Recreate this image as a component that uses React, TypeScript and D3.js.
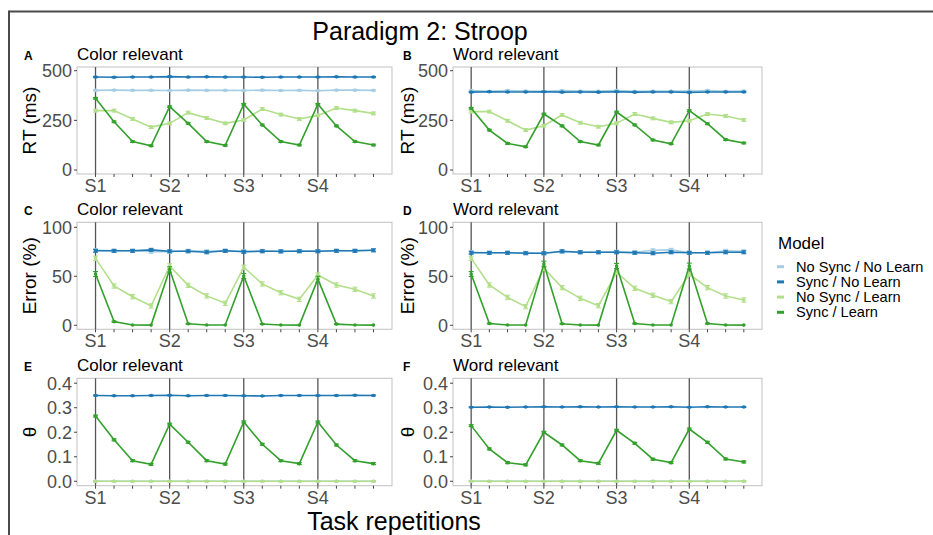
import React from 'react';
import * as d3 from 'd3';

// x positions (task repetitions) and session labels
const trials = [1, 2, 3, 4, 5, 6, 7, 8, 9, 10, 11, 12, 13, 14, 15, 16];
const sessionTrials = [1, 5, 9, 13];
const sessionLabels = ['S1', 'S2', 'S3', 'S4'];

const models = ['No Sync / No Learn', 'Sync / No Learn', 'No Sync / Learn', 'Sync / Learn'];
const modelColors = ['#a6cee3', '#1f78b4', '#b2df8a', '#33a02c'];

// A: RT, color relevant
const rtColorNsNl = [401, 402, 401, 401, 400, 402, 401, 401, 400, 402, 400, 401, 399, 402, 402, 401];
const rtColorSNl = [468, 467, 468, 468, 470, 468, 469, 468, 468, 467, 468, 468, 468, 469, 468, 468];
const rtColorNsL = [299, 299, 257, 216, 235, 289, 262, 235, 252, 307, 279, 257, 275, 312, 299, 285];
const rtColorSL = [361, 243, 143, 122, 319, 235, 143, 124, 331, 227, 143, 126, 331, 222, 143, 126];
// B: RT, word relevant
const rtWordNsNl = [400, 396, 400, 398, 396, 400, 397, 397, 400, 396, 397, 397, 398, 400, 396, 398];
const rtWordSNl = [392, 394, 393, 393, 394, 392, 393, 392, 394, 392, 393, 393, 391, 393, 393, 393];
const rtWordNsL = [294, 294, 248, 201, 223, 277, 238, 218, 235, 282, 260, 240, 248, 282, 272, 252];
const rtWordSL = [311, 201, 134, 117, 282, 222, 143, 126, 292, 227, 151, 132, 299, 233, 153, 136];
// C: error, color relevant
const errColorNsNl = [76.5, 76, 76, 75, 75, 76, 75.5, 76, 75.5, 76, 75, 76, 75.5, 76, 76, 76.5];
const errColorSNl = [76, 76, 76, 77, 75.5, 75.5, 74.5, 76, 75, 75.5, 75.5, 75.5, 75.5, 76, 76, 76.5];
const errColorNsL = [68.3, 40.1, 29.2, 19.7, 60.5, 40.8, 30, 22.4, 59.2, 42.2, 33.3, 26.5, 51.3, 41.1, 36.7, 29.9];
const errColorSL = [52.3, 3.7, 0.3, 0.2, 57, 1.5, 0.3, 0.3, 50.3, 1.3, 0.3, 0.2, 47, 1.2, 0.3, 0.2];
// D: error, word relevant
const errWordNsNl = [74.5, 74, 74, 74, 73.5, 75, 74.5, 74.5, 75, 74.5, 76.5, 77, 74, 74, 76, 75.5];
const errWordSNl = [74, 74, 74, 73.5, 73.5, 75.5, 74.5, 74.5, 74.5, 74, 73.5, 74.5, 74, 74, 74.5, 74.5];
const errWordNsL = [68.3, 41.1, 28.5, 19, 58.2, 38.4, 27.5, 20, 54.1, 37.7, 30.6, 24.2, 52.1, 38.4, 29.9, 25.8];
const errWordSL = [52.3, 1.8, 0.3, 0.3, 62.6, 1.5, 0.3, 0.2, 60.5, 1.8, 0.3, 0.3, 60.5, 1.8, 0.3, 0.2];
// E: theta, color relevant
const thColorNsNl = [0, 0, 0, 0, 0, 0, 0, 0, 0, 0, 0, 0, 0, 0, 0, 0];
const thColorSNl = [0.35, 0.349, 0.349, 0.35, 0.351, 0.349, 0.35, 0.35, 0.349, 0.348, 0.35, 0.35, 0.35, 0.35, 0.351, 0.35];
const thColorNsL = [0, 0, 0, 0, 0, 0, 0, 0, 0, 0, 0, 0, 0, 0, 0, 0];
const thColorSL = [0.266, 0.169, 0.084, 0.069, 0.233, 0.159, 0.084, 0.07, 0.242, 0.151, 0.084, 0.072, 0.242, 0.148, 0.084, 0.072];
// F: theta, word relevant
const thWordNsNl = [0, 0, 0, 0, 0, 0, 0, 0, 0, 0, 0, 0, 0, 0, 0, 0];
const thWordSNl = [0.302, 0.303, 0.302, 0.303, 0.304, 0.303, 0.304, 0.303, 0.304, 0.303, 0.303, 0.304, 0.302, 0.304, 0.303, 0.303];
const thWordNsL = [0, 0, 0, 0, 0, 0, 0, 0, 0, 0, 0, 0, 0, 0, 0, 0];
const thWordSL = [0.227, 0.132, 0.076, 0.067, 0.2, 0.148, 0.084, 0.073, 0.208, 0.155, 0.09, 0.076, 0.213, 0.159, 0.091, 0.079];

// standard errors, one value per model (Sync / Learn in error panels is per point)
const seRt = [3, 3, 7, 4];
const seErr = [1.5, 1.5, 2.2, 0];
const seErrSyncLearn = [2.5, 0.6, 0, 0, 2.8, 0.5, 0, 0, 2.6, 0.5, 0, 0, 3, 0.5, 0, 0];
const seTheta = [0.002, 0.002, 0.002, 0.004];

const rtTicks = [0, 250, 500];
const errTicks = [0, 50, 100];
const thetaTicks = [0, 0.1, 0.2, 0.3, 0.4];

const FONT = 'Liberation Sans, Arial, Helvetica, sans-serif';

const cols = [
  { x0: 77, x1: 392, letterX: 24, titleX: 36 },
  { x0: 453, x1: 762, letterX: 403, titleX: 414 },
];
const rows = [
  { y0: 67, y1: 174, domain: [-20, 518.6], ticks: rtTicks, fmt: (v: number) => String(v), ylab: 'RT (ms)', se: seRt },
  { y0: 222.3, y1: 329.3, domain: [-4.1, 105.1], ticks: errTicks, fmt: (v: number) => String(v), ylab: 'Error (%)', se: seErr },
  { y0: 378.3, y1: 485.7, domain: [-0.018, 0.42], ticks: thetaTicks, fmt: (v: number) => v.toFixed(1), ylab: 'θ', se: seTheta },
];

const panels = [
  { letter: 'A', title: 'Color relevant', row: 0, col: 0, series: [rtColorNsNl, rtColorSNl, rtColorNsL, rtColorSL] },
  { letter: 'B', title: 'Word relevant', row: 0, col: 1, series: [rtWordNsNl, rtWordSNl, rtWordNsL, rtWordSL] },
  { letter: 'C', title: 'Color relevant', row: 1, col: 0, series: [errColorNsNl, errColorSNl, errColorNsL, errColorSL] },
  { letter: 'D', title: 'Word relevant', row: 1, col: 1, series: [errWordNsNl, errWordSNl, errWordNsL, errWordSL] },
  { letter: 'E', title: 'Color relevant', row: 2, col: 0, series: [thColorNsNl, thColorSNl, thColorNsL, thColorSL] },
  { letter: 'F', title: 'Word relevant', row: 2, col: 1, series: [thWordNsNl, thWordSNl, thWordNsL, thWordSL] },
];

function Panel({ p }: { p: typeof panels[number] }) {
  const c = cols[p.col];
  const r = rows[p.row];
  const x = d3.scaleLinear().domain([0, 17]).range([c.x0, c.x1]);
  const y = d3.scaleLinear().domain(r.domain).range([r.y1, r.y0]);
  const line = d3.line<number>().x((_, i) => x(trials[i])).y(d => y(d));
  const midY = (r.y0 + r.y1) / 2;
  const seOf = (si: number, i: number) => (p.row === 1 && si === 3 ? seErrSyncLearn[i] : r.se[si]);

  return (
    <g>
      <text x={c.letterX} y={r.y0 - 7} fontSize={12} fontWeight="bold" fontFamily={FONT}>{p.letter}</text>
      <text x={c.x0} y={r.y0 - 7} fontSize={17} fontFamily={FONT}>{p.title}</text>
      <text transform={`translate(${c.titleX},${midY}) rotate(-90)`} textAnchor="middle" fontSize={19} fontFamily={FONT}>{r.ylab}</text>

      <rect x={c.x0} y={r.y0} width={c.x1 - c.x0} height={r.y1 - r.y0} fill="white" stroke="#c6c6c6" strokeWidth={1.1} />

      {sessionTrials.map(t => (
        <line key={t} x1={x(t)} x2={x(t)} y1={r.y0} y2={r.y1} stroke="#555" strokeWidth={1.3} />
      ))}

      {p.series.map((vals, si) => (
        <g key={si}>
          <path d={line(vals) || ''} fill="none" stroke={modelColors[si]} strokeWidth={1.6} />
          {vals.map((v, i) => {
            const xx = x(trials[i]);
            const se = seOf(si, i);
            const lo = y(v - se);
            const hi = y(v + se);
            return (
              <g key={i} stroke={modelColors[si]} strokeWidth={1.1}>
                {se > 0 && (
                  <>
                    <line x1={xx} x2={xx} y1={lo} y2={hi} />
                    <line x1={xx - 2.5} x2={xx + 2.5} y1={lo} y2={lo} />
                    <line x1={xx - 2.5} x2={xx + 2.5} y1={hi} y2={hi} />
                  </>
                )}
                <circle cx={xx} cy={y(v)} r={1.8} fill={modelColors[si]} stroke="none" />
              </g>
            );
          })}
        </g>
      ))}

      {r.ticks.map(t => (
        <g key={t}>
          <line x1={c.x0 - 3} x2={c.x0} y1={y(t)} y2={y(t)} stroke="#444" strokeWidth={1} />
          <text x={c.x0 - 5} y={y(t)} dy="0.35em" textAnchor="end" fontSize={18} fill="#4d4d4d" fontFamily={FONT}>{r.fmt(t)}</text>
        </g>
      ))}

      {trials.map(t => (
        <line key={t} x1={x(t)} x2={x(t)} y1={r.y1} y2={r.y1 + 3} stroke="#444" strokeWidth={1} />
      ))}
      {sessionTrials.map((t, i) => (
        <text key={t} x={x(t)} y={r.y1 + 18} textAnchor="middle" fontSize={18} fill="#4d4d4d" fontFamily={FONT}>{sessionLabels[i]}</text>
      ))}
    </g>
  );
}

export default function App() {
  return (
    <svg width={933} height={535} style={{ position: 'absolute', left: 0, top: 0, background: 'white' }}>
      <rect x={0} y={0} width={933} height={535} fill="white" />
      <line x1={9} x2={933} y1={11.5} y2={11.5} stroke="#4a4a4a" strokeWidth={2} />
      <line x1={9} x2={9} y1={10.5} y2={535} stroke="#4a4a4a" strokeWidth={2} />

      <text x={420} y={40} textAnchor="middle" fontSize={25} fontFamily={FONT}>Paradigm 2: Stroop</text>

      {panels.map(p => <Panel key={p.letter} p={p} />)}

      <text x={394} y={530} textAnchor="middle" fontSize={25} fontFamily={FONT}>Task repetitions</text>

      <g fontFamily={FONT}>
        <text x={778} y={249} fontSize={17}>Model</text>
        {models.map((m, i) => (
          <g key={m}>
            <rect x={777} y={265.2 + i * 15.2} width={7} height={3} fill={modelColors[i]} />
            <text x={796} y={266.7 + i * 15.2} dy="0.35em" fontSize={14.6}>{m}</text>
          </g>
        ))}
      </g>
    </svg>
  );
}
